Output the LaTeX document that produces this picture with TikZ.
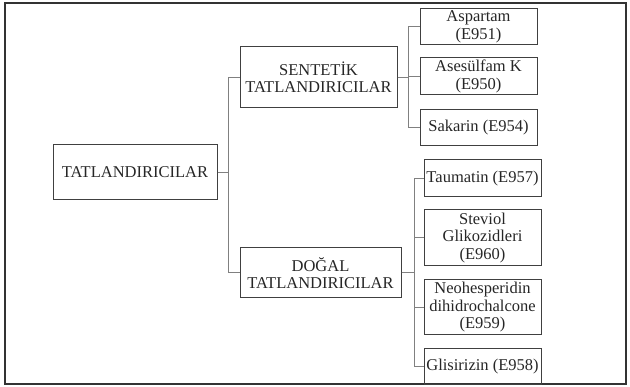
\documentclass[tikz,border=0pt]{standalone}
\usepackage{fontspec}
\setmainfont{Liberation Serif}
\usepackage{tikz}

\begin{document}
\begin{tikzpicture}[x=1pt,y=-1pt,
  box/.style={rectangle, draw=black!75, line width=1pt, inner sep=0pt, align=center,
    text=black!85, font=\fontsize{16.5}{17.5}\selectfont},
  link/.style={draw=black!50, line width=1pt}]

\useasboundingbox (0,0) rectangle (630,387);
\draw [black!80, line width=1.5pt] (5,3) rectangle (626,384);

\node (n1) at (135,172.5) [box, minimum width=164pt, minimum height=55pt]{TATLANDIRICILAR};

\node (n2) at (318.5,77.5) [box, minimum width=157pt, minimum height=61pt]{SENTET\.{I}K\\TATLANDIRICILAR};
\node (n3) at (320.5,273) [box, minimum width=161pt, minimum height=50pt]{DOĞAL\\TATLANDIRICILAR};

\node (l1) at (478.5,27) [box, minimum width=117pt, minimum height=36pt]{Aspartam\\(E951)};
\node (l2) at (478.5,76.5) [box, minimum width=117pt, minimum height=37pt]{Asesülfam K\\(E950)};
\node (l3) at (478.5,128) [box, minimum width=117pt, minimum height=36pt]{Sakarin (E954)};

\node (m1) at (482.5,178.5) [box, minimum width=117pt, minimum height=37pt]{Taumatin (E957)};
\node (m2) at (482.5,238) [box, minimum width=117pt, minimum height=56pt]{Steviol\\Glikozidleri\\(E960)};
\node (m3) at (482.5,307.5) [box, minimum width=117pt, minimum height=55pt]{Neohesperidin\\dihidrochalcone\\(E959)};
\node (m4) at (482.5,367) [box, minimum width=117pt, minimum height=36pt]{Glisirizin (E958)};

\draw [link] (n1.east) -- ++(11,0) |- (n2.west);
\draw [link] (n1.east) -- ++(11,0) |- (n3.west);

\draw [link] (n2.east) -- ++(11,0) |- (l1.west);
\draw [link] (n2.east) -- ++(11,0) |- (l2.west);
\draw [link] (n2.east) -- ++(11,0) |- (l3.west);

\draw [link] (n3.east) -- ++(13,0) |- (m1.west);
\draw [link] (n3.east) -- ++(13,0) |- (m2.west);
\draw [link] (n3.east) -- ++(13,0) |- (m3.west);
\draw [link] (n3.east) -- ++(13,0) |- (m4.west);

\end{tikzpicture}
\end{document}
